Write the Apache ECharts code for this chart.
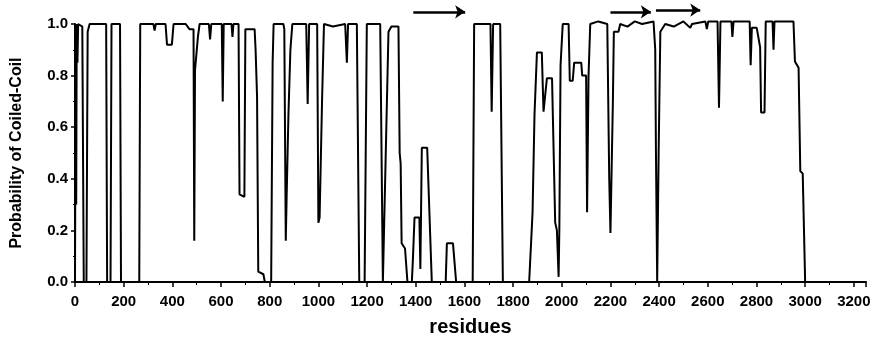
<!DOCTYPE html>
<html>
<head>
<meta charset="utf-8">
<script src="https://cdn.jsdelivr.net/npm/echarts@6/dist/echarts.min.js"></script>
<style>
  html, body { margin: 0; padding: 0; background: #fff; }
  #chart { width: 881px; height: 342px; }
</style>
</head>
<body>
<div id="chart"></div>
<script>
// residue position along the sequence and coiled-coil probability at that residue
const residues = [
  0, 3, 5, 7, 10, 13, 30, 36, 47, 52, 60,
  128, 132, 146, 150, 185, 189, 264, 268,
  322, 327, 332, 372, 378, 398, 405, 455, 470, 487, 490, 493, 505, 512,
  550, 555, 560, 603, 607, 611, 643, 647, 651, 672, 676, 696, 700, 738,
  742, 748, 753, 774, 780, 806, 812, 816, 856, 860, 866, 870, 877, 885, 893,
  950, 956, 962, 995, 1000, 1005, 1015, 1023, 1060, 1110, 1117, 1122,
  1158, 1168, 1190, 1199, 1254, 1265, 1272, 1288, 1300, 1329, 1334, 1338,
  1342, 1356, 1366, 1384, 1388, 1395, 1415, 1419, 1425, 1447, 1466,
  1523, 1528, 1553, 1566, 1634, 1640, 1707, 1712, 1718, 1747, 1758,
  1866, 1880, 1888, 1898, 1918, 1925, 1932, 1939, 1960, 1973, 1980, 1987,
  1990, 1995, 2004, 2028, 2033, 2045, 2051, 2080, 2084, 2100, 2104, 2110,
  2117, 2150, 2187, 2195, 2200, 2205, 2210, 2214, 2233, 2240, 2270, 2300,
  2330, 2377, 2384, 2387, 2392, 2398, 2405, 2425, 2460, 2500, 2528, 2535,
  2590, 2596, 2602, 2640, 2646, 2652, 2697, 2701, 2706, 2772, 2776, 2781,
  2801, 2815, 2819, 2833, 2838, 2866, 2870, 2874, 2952, 2958, 2973, 2980,
  2990, 3000, 3245
];
const probability = [
  0.0, 1.0, 0.3, 1.0, 0.85, 1.0, 0.99, 0.0, 0.0, 0.97, 1.0,
  1.0, 0.0, 0.0, 1.0, 1.0, 0.0, 0.0, 1.0,
  1.0, 0.975, 1.0, 1.0, 0.92, 0.92, 1.0, 1.0, 0.98, 0.98, 0.16, 0.82, 0.95, 1.0,
  1.0, 0.94, 1.0, 1.0, 0.70, 1.0, 1.0, 0.95, 1.0, 1.0, 0.34, 0.33, 0.98, 0.98,
  0.90, 0.72, 0.04, 0.03, 0.0, 0.0, 0.85, 1.0, 1.0, 0.98, 0.16, 0.35, 0.65, 0.9, 1.0,
  1.0, 0.69, 1.0, 1.0, 0.23, 0.25, 0.7, 1.0, 0.99, 1.0, 0.85, 1.0,
  1.0, 0.0, 0.0, 1.0, 1.0, 0.0, 0.0, 0.97, 0.99, 0.99, 0.5, 0.46,
  0.15, 0.13, 0.0, 0.0, 0.08, 0.25, 0.25, 0.05, 0.52, 0.52, 0.0,
  0.0, 0.15, 0.15, 0.0, 0.0, 1.0, 1.0, 0.66, 1.0, 1.0, 0.0,
  0.0, 0.27, 0.65, 0.89, 0.89, 0.66, 0.66, 0.79, 0.79, 0.23, 0.2, 0.02,
  0.2, 0.84, 1.0, 1.0, 0.78, 0.78, 0.85, 0.85, 0.80, 0.80, 0.27, 0.8,
  1.0, 1.01, 1.0, 0.4, 0.19, 0.19, 0.7, 0.97, 0.97, 1.0, 0.99, 1.01,
  1.0, 1.01, 0.9, 0.5, 0.0, 0.5, 0.97, 1.0, 0.99, 1.01, 0.985, 1.0,
  1.01, 0.98, 1.01, 1.01, 0.675, 1.01, 1.01, 0.95, 1.01, 1.01, 0.84, 0.985,
  0.985, 0.91, 0.657, 0.657, 1.01, 1.01, 0.9, 1.01, 1.01, 0.855, 0.83, 0.43,
  0.42, 0.0, 0.0
];

// sequence spans marked by the arrows above the plot
const arrowStart = [1390, 2200, 2387];
const arrowEnd = [1603, 2366, 2569];
const arrowLevel = [1.047, 1.047, 1.054];

const profile = residues.map((r, i) => [r, probability[i]]);
const arrows = arrowStart.map((s, i) => ({
  coords: [[s, arrowLevel[i]], [arrowEnd[i], arrowLevel[i]]]
}));

const chart = echarts.init(document.getElementById("chart"));

const labelFont = {
  color: "#000",
  fontFamily: "Liberation Sans",
  fontWeight: "bold"
};

const option = {
  backgroundColor: "#fff",
  animation: false,
  grid: { left: 75, right: 15, top: 24, bottom: 58 },
  xAxis: {
    type: "value",
    min: 0,
    max: 3250,
    interval: 200,
    name: "residues",
    nameLocation: "middle",
    nameGap: 35,
    nameTextStyle: { ...labelFont, fontSize: 20 },
    axisLine: { lineStyle: { color: "#000", width: 2 } },
    axisTick: { length: 5, lineStyle: { color: "#000", width: 1.5 } },
    minorTick: { show: true, splitNumber: 2, length: 3, lineStyle: { color: "#000" } },
    axisLabel: {
      ...labelFont,
      fontSize: 15,
      margin: 12,
      showMaxLabel: false,
      formatter: (v) => String(v)
    },
    splitLine: { show: false }
  },
  yAxis: {
    type: "value",
    min: 0,
    max: 1,
    interval: 0.2,
    name: "Probability of Coiled-Coil",
    nameLocation: "middle",
    nameGap: 50,
    nameTextStyle: { ...labelFont, fontSize: 16 },
    axisLine: { lineStyle: { color: "#000", width: 2 } },
    axisTick: { length: 4, lineStyle: { color: "#000", width: 1.5 } },
    minorTick: { show: true, splitNumber: 2, length: 2, lineStyle: { color: "#000" } },
    axisLabel: {
      ...labelFont,
      fontSize: 15,
      margin: 7,
      formatter: (v) => v.toFixed(1)
    },
    splitLine: { show: false }
  },
  series: [
    {
      type: "line",
      data: profile,
      showSymbol: false,
      clip: false,
      lineStyle: { color: "#000", width: 2 }
    },
    {
      type: "lines",
      coordinateSystem: "cartesian2d",
      clip: false,
      data: arrows,
      symbol: ["none", "arrow"],
      symbolSize: 10,
      lineStyle: { color: "#000", width: 2.5, opacity: 1 }
    }
  ]
};

chart.setOption(option);
</script>
</body>
</html>
